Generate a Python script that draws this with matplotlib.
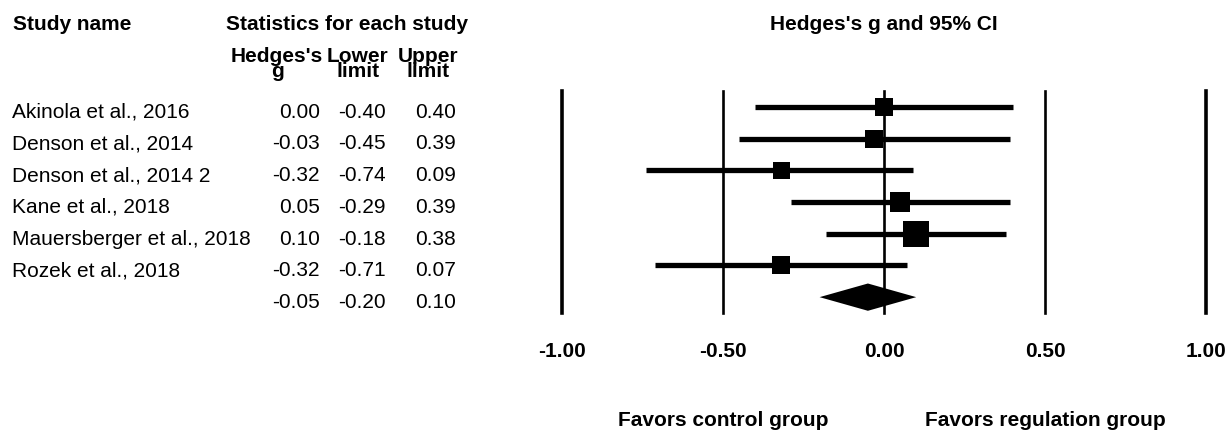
import matplotlib.pyplot as plt
import matplotlib.transforms as mtransforms

plt.rcParams['font.family'] = ['Liberation Sans', 'DejaVu Sans']

studies = ["Akinola et al., 2016", "Denson et al., 2014", "Denson et al., 2014 2",
           "Kane et al., 2018", "Mauersberger et al., 2018", "Rozek et al., 2018"]
hedges_g = [0.00, -0.03, -0.32, 0.05, 0.10, -0.32]
lower = [-0.40, -0.45, -0.74, -0.29, -0.18, -0.71]
upper = [0.40, 0.39, 0.09, 0.39, 0.38, 0.07]
# relative weight shown by box size (px)
box_px = [18, 18, 17, 20, 27, 18]

summary_g = -0.05
summary_lower = -0.20
summary_upper = 0.10

ticks = [-1.0, -0.5, 0.0, 0.5, 1.0]

W, H = 1230, 435
fig = plt.figure(figsize=(W / 100, H / 100), dpi=100)

# forest axes: x=-1 at 562px, x=1 at 1206px, lines from 92px to 314px
ax = fig.add_axes([562 / W, 1 - 314 / H, (1206 - 562) / W, (314 - 92) / H])
ax.set_xlim(-1, 1)
ax.set_ylim(6.5, -0.5)
ax.axis('off')

for t in ticks:
    lw = 2.6 if abs(t) == 1 else 1.9
    ax.axvline(t, color='black', lw=lw, clip_on=False)

for i in range(len(studies)):
    ax.plot([lower[i], upper[i]], [i, i], color='black', lw=3.8, solid_capstyle='butt')
    ax.plot(hedges_g[i], i, marker='s', color='black', markersize=box_px[i] * 0.72,
            markeredgewidth=0)

srow = len(studies)
h = 0.43
ax.fill([summary_lower, summary_g, summary_upper, summary_g],
        [srow, srow - h, srow, srow + h], color='black', lw=0)

bold = dict(fontsize=15, fontweight='bold')
xt = ax.get_xaxis_transform()
for t in ticks:
    ax.text(t, -0.171, "%.2f" % t, transform=xt, ha='center', va='center', **bold)
ax.text(-0.5, -0.48, "Favors control group", transform=xt, ha='center', va='center', **bold)
ax.text(0.5, -0.48, "Favors regulation group", transform=xt, ha='center', va='center', **bold)

# table on the left, rows follow the forest y scale
tr = mtransforms.blended_transform_factory(fig.transFigure, ax.transData)
off = 0.31
cols_x = [320, 386, 456]
for i, name in enumerate(studies):
    fig.text(12 / W, i + off, name, transform=tr, ha='left', va='baseline', fontsize=15)
    for cx, v in zip(cols_x, [hedges_g[i], lower[i], upper[i]]):
        fig.text(cx / W, i + off, "%.2f" % v, transform=tr, ha='right', va='baseline', fontsize=15)
for cx, v in zip(cols_x, [summary_g, summary_lower, summary_upper]):
    fig.text(cx / W, srow + off, "%.2f" % v, transform=tr, ha='right', va='baseline', fontsize=15)

# headers
fig.text(13 / W, 1 - 25 / H, "Study name", ha='left', va='center', **bold)
fig.text(347 / W, 1 - 25 / H, "Statistics for each study", ha='center', va='center', **bold)
fig.text(884 / W, 1 - 25 / H, "Hedges's g and 95% CI", ha='center', va='center', **bold)
for cx, lab in [(277, "Hedges's\ng"), (358, "Lower\nlimit"), (428, "Upper\nlimit")]:
    fig.text(cx / W, 1 - 64 / H, lab, ha='center', va='center', ma='center',
             linespacing=0.78, **bold)

fig.savefig("out.png", dpi=100, facecolor='white')
